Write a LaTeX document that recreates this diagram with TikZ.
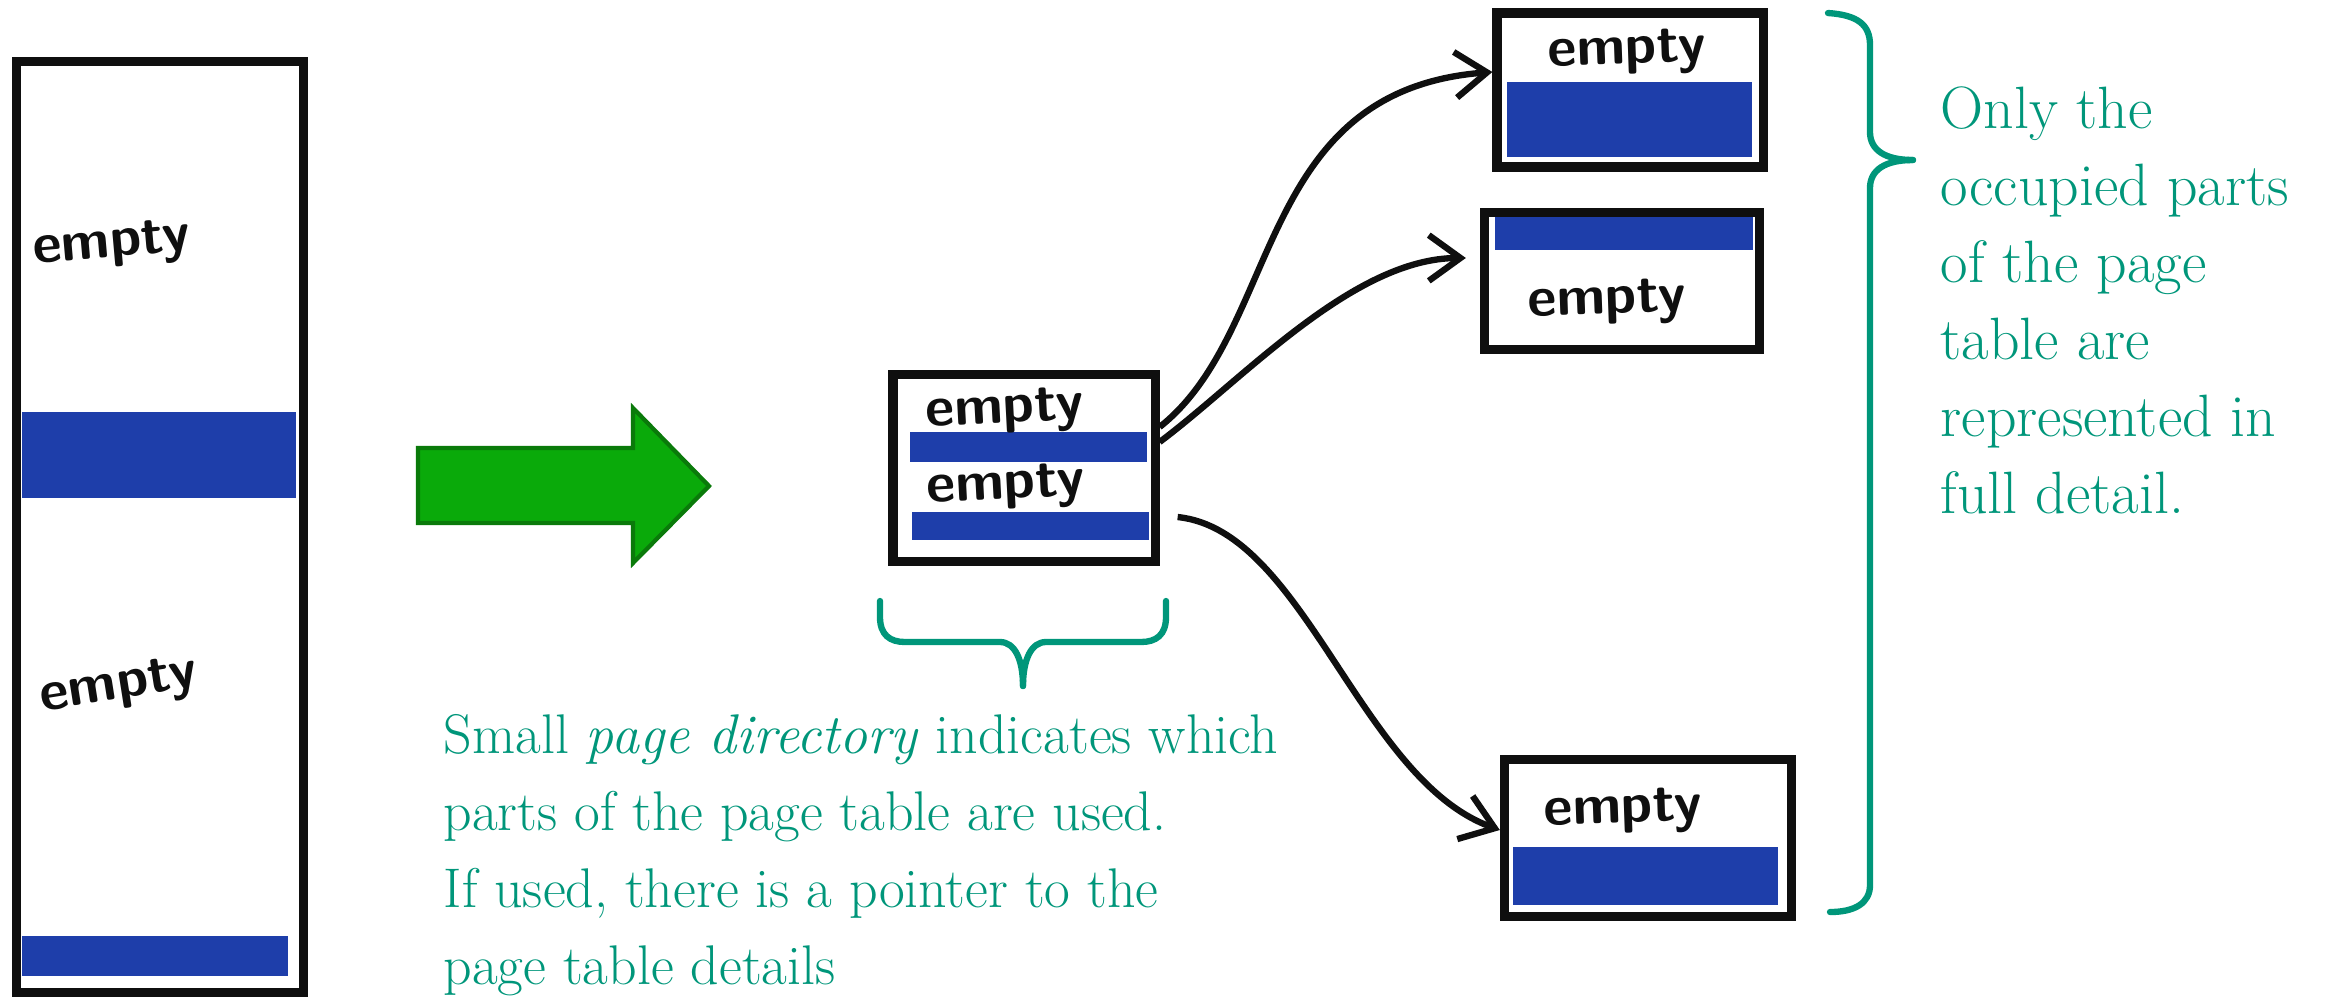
\documentclass[tikz,border=0pt]{standalone}
\usetikzlibrary{arrows.meta}
\definecolor{notegreen}{RGB}{0,150,122}
\definecolor{markerblue}{RGB}{30,62,170}
\definecolor{arrowfill}{RGB}{10,170,10}
\definecolor{arrowline}{RGB}{10,122,10}
\definecolor{ink}{RGB}{15,15,15}
\tikzset{
  pagebox/.style={draw=ink, line width=2.6pt, inner sep=0pt},
  scrawl/.style={text=ink, font=\sffamily\bfseries\fontsize{16}{16}\selectfont, inner sep=0pt},
  pointer/.style={draw=ink, line width=1.8pt, -{Straight Barb[length=9pt,width=13pt]}},
  curly/.style={draw=notegreen, line width=1.8pt, line cap=round},
  notetext/.style={text=notegreen, font=\fontsize{15.9}{21.9}\selectfont, align=left, inner sep=0pt, anchor=north west}
}
\begin{document}
\begin{tikzpicture}[x=0.01cm, y=-0.01cm]
\useasboundingbox (0,0) rectangle (2335,999);

% marker stripes (occupied entries)
\fill[markerblue] (22,412) rectangle (296,498);
\fill[markerblue] (22,936) rectangle (288,976);
\fill[markerblue] (910,432) rectangle (1147,462);
\fill[markerblue] (912,512) rectangle (1149,540);
\fill[markerblue] (1507,82) rectangle (1752,157);
\fill[markerblue] (1495,217) rectangle (1753,250);
\fill[markerblue] (1513,847) rectangle (1778,905);

% tables
\node[pagebox, minimum width=2.86cm, minimum height=9.31cm] (full) at (160,527) {};
\node[pagebox, minimum width=2.62cm, minimum height=1.87cm] (dir) at (1024,468) {};
\node[pagebox, minimum width=2.66cm, minimum height=1.54cm] (tbl1) at (1630,90) {};
\node[pagebox, minimum width=2.75cm, minimum height=1.37cm] (tbl2) at (1622,281) {};
\node[pagebox, minimum width=2.87cm, minimum height=1.57cm] (tbl3) at (1648,838) {};

% handwritten labels
\node[scrawl, rotate=5] (fullempty1) at (112,246) {empty};
\node[scrawl, rotate=9] (fullempty2) at (119,688) {empty};
\node[scrawl, rotate=3] (diremptyA) at (1005,412) {empty};
\node[scrawl, rotate=3] (diremptyB) at (1006,488) {empty};
\node[scrawl, rotate=2] (tblempty1) at (1627,53) {empty};
\node[scrawl, rotate=2] (tblempty2) at (1607,303) {empty};
\node[scrawl, rotate=2] (tblempty3) at (1623,812) {empty};

% big green arrow
\filldraw[fill=arrowfill, draw=arrowline, line width=1.2pt]
  (418,448) -- (633,448) -- (633,408) -- (709,486) -- (633,563) -- (633,523) -- (418,523) -- cycle;

% pointers
\draw[pointer] ([yshift=0.41cm]dir.east) .. controls +(123,-97) and +(-239,18) .. ([yshift=0.18cm]tbl1.west);
\draw[pointer, shorten >=0.14cm] ([yshift=0.26cm]dir.east) .. controls +(83,-62) and +(-127,0) .. ([yshift=0.23cm]tbl2.west);
\draw[pointer] ([xshift=0.18cm, yshift=-0.49cm]dir.east) .. controls +(127,13) and +(-140,-50) .. ([yshift=0.08cm]tbl3.west);

% braces
\draw[curly] (880,601) -- (880,617) .. controls (880,635) and (890,642) .. (905,642) -- (1000,642)
  .. controls (1015,642) and (1023,660) .. (1023,686);
\draw[curly] (1166,601) -- (1166,617) .. controls (1166,635) and (1156,642) .. (1141,642) -- (1046,642)
  .. controls (1031,642) and (1023,660) .. (1023,686);
\draw[curly] (1828,13) .. controls (1858,15) and (1870,25) .. (1870,45) -- (1870,132)
  .. controls (1870,150) and (1885,160) .. (1913,160);
\draw[curly] (1913,160) .. controls (1885,160) and (1870,170) .. (1870,188) -- (1870,885)
  .. controls (1870,903) and (1855,912) .. (1830,912);

% notes
\node[notetext] (dirnote) at (443,714) {Small \textit{page directory} indicates which\\ parts of the page table are used.\\ If used, there is a pointer to the\\ page table details};
\node[notetext, font=\fontsize{17}{21.9}\selectfont] (tblnote) at (1940,86) {Only the\\ occupied parts\\ of the page\\ table are\\ represented in\\ full detail.};
\end{tikzpicture}
\end{document}
